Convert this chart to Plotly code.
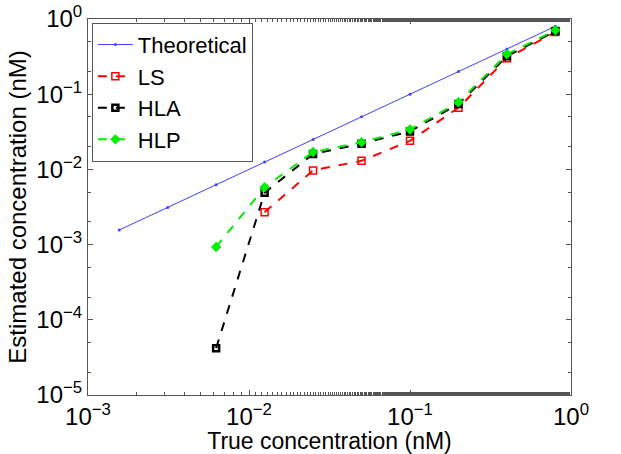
import plotly.graph_objects as go

x_theo = [0.0015625, 0.003125, 0.00625, 0.0125, 0.025, 0.05, 0.1, 0.2, 0.4, 0.8]
y_theo = [0.0015625, 0.003125, 0.00625, 0.0125, 0.025, 0.05, 0.1, 0.2, 0.4, 0.8]

x_ls = [0.0125, 0.025, 0.05, 0.1, 0.2, 0.4, 0.8]
y_ls = [0.0027, 0.0097, 0.013, 0.024, 0.066, 0.30, 0.67]

x_hl = [0.00625, 0.0125, 0.025, 0.05, 0.1, 0.2, 0.4, 0.8]
y_hla = [4.2e-5, 0.0049, 0.016, 0.022, 0.032, 0.074, 0.32, 0.69]
y_hlp = [9.3e-4, 0.0058, 0.017, 0.023, 0.034, 0.078, 0.34, 0.71]

x_tick_vals = [1e-3, 1e-2, 1e-1, 1e0]
x_tick_text = ["10<sup>−3</sup>", "10<sup>−2</sup>", "10<sup>−1</sup>", "10<sup>0</sup>"]
y_tick_vals = [1e-5, 1e-4, 1e-3, 1e-2, 1e-1, 1e0]
y_tick_text = ["10<sup>−5</sup>", "10<sup>−4</sup>", "10<sup>−3</sup>", "10<sup>−2</sup>", "10<sup>−1</sup>", "10<sup>0</sup>"]

FONT = "Liberation Sans, Arial"

fig = go.Figure()
fig.add_trace(go.Scatter(x=x_theo, y=y_theo, name="Theoretical", mode="lines+markers",
                         line=dict(color="#4040ff", width=1),
                         marker=dict(symbol="circle", size=3, color="#4040ff")))
fig.add_trace(go.Scatter(x=x_ls, y=y_ls, name="LS", mode="lines+markers",
                         line=dict(color="#ff0000", width=2, dash="dash"),
                         marker=dict(symbol="square-open", size=7, color="#ff0000", line=dict(width=1.5))))
fig.add_trace(go.Scatter(x=x_hl, y=y_hla, name="HLA", mode="lines+markers",
                         line=dict(color="#000000", width=2, dash="dash"),
                         marker=dict(symbol="square-open", size=6, color="#000000", line=dict(width=2.5))))
fig.add_trace(go.Scatter(x=x_hl, y=y_hlp, name="HLP", mode="lines+markers",
                         line=dict(color="#00ee00", width=2, dash="dash"),
                         marker=dict(symbol="diamond", size=8, color="#00ee00")))

axis_common = dict(type="log", showgrid=False, zeroline=False, showline=True, mirror="ticks",
                   linecolor="#555555", linewidth=1, ticks="inside", ticklen=5, tickcolor="#555555",
                   tickfont=dict(family=FONT, size=24, color="black"), automargin=False,
                   minor=dict(ticks="inside", ticklen=3, tickcolor="#555555", showgrid=False))

fig.update_xaxes(range=[-3, 0], tickvals=x_tick_vals, ticktext=x_tick_text,
                 title=dict(text="True concentration (nM)", standoff=0,
                            font=dict(family=FONT, size=23, color="black")),
                 **axis_common)
fig.update_yaxes(range=[-5, 0], tickvals=y_tick_vals, ticktext=y_tick_text,
                 title=dict(text="Estimated concentration (nM)", standoff=2,
                            font=dict(family=FONT, size=24, color="black")),
                 **axis_common)

fig.update_layout(
    width=621, height=454,
    margin=dict(l=88, r=50, t=19, b=59),
    paper_bgcolor="white", plot_bgcolor="white",
    font=dict(family=FONT, color="black"),
    legend=dict(x=0.008, y=0.99, xanchor="left", yanchor="top",
                bgcolor="white", bordercolor="#555555", borderwidth=1,
                font=dict(family=FONT, size=22, color="black"),
                tracegroupgap=0, itemwidth=35),
)

fig.write_html("out.html")
